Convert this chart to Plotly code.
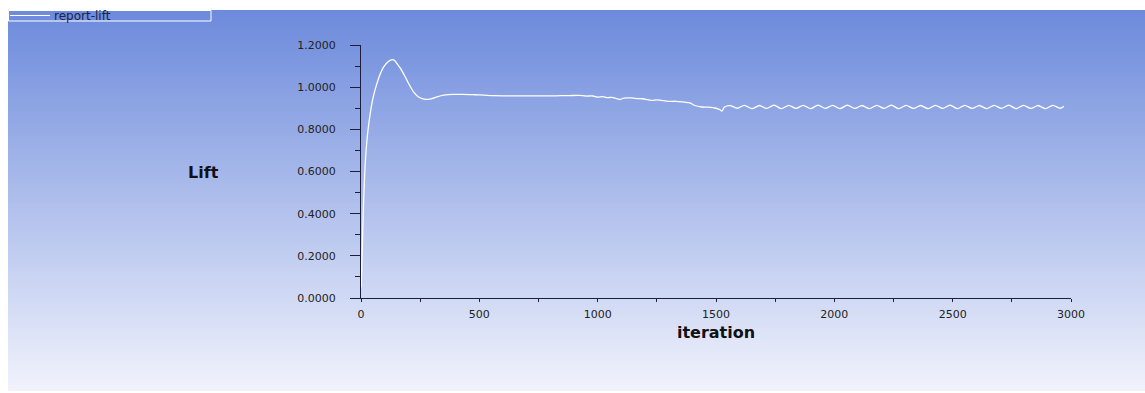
import plotly.graph_objects as go

# ---------------- data ----------------
iterations = [
    1, 5, 10, 18, 28, 39, 52, 67, 82, 96, 112, 128, 140, 152, 166, 180, 200,
    222, 245, 272, 300, 321, 350, 390, 430, 480, 520, 560, 620, 700, 760, 820,
    880, 920, 950, 980, 1000, 1020, 1040, 1060, 1080, 1096, 1110, 1140, 1170,
    1190, 1210, 1230, 1250, 1270, 1300, 1330, 1360, 1390, 1410, 1440, 1470,
    1500, 1515, 1526, 1535, 1560, 1590, 1620, 1652, 1683, 1714, 1745, 1776,
    1807, 1838, 1869, 1900, 1931, 1962, 1993, 2024, 2055, 2086, 2117, 2148,
    2179, 2210, 2241, 2272, 2303, 2334, 2365, 2396, 2427, 2458, 2489, 2520,
    2551, 2582, 2613, 2644, 2675, 2706, 2737, 2768, 2799, 2830, 2861, 2892,
    2923, 2954, 2970,
]
lift = [
    0.05, 0.22, 0.42, 0.64, 0.78, 0.875, 0.955, 1.017, 1.065, 1.096, 1.118,
    1.130, 1.128, 1.112, 1.090, 1.063, 1.020, 0.978, 0.952, 0.942, 0.946,
    0.954, 0.962, 0.966, 0.966, 0.964, 0.962, 0.960, 0.959, 0.959, 0.959,
    0.959, 0.960, 0.961, 0.958, 0.958, 0.953, 0.955, 0.950, 0.952, 0.946,
    0.942, 0.948, 0.949, 0.946, 0.945, 0.941, 0.937, 0.940, 0.937, 0.933,
    0.933, 0.930, 0.925, 0.913, 0.906, 0.905, 0.900, 0.894, 0.887, 0.905,
    0.912, 0.900, 0.914, 0.898, 0.913, 0.899, 0.915, 0.898, 0.914, 0.899,
    0.914, 0.898, 0.915, 0.899, 0.914, 0.898, 0.915, 0.899, 0.913, 0.898,
    0.914, 0.899, 0.915, 0.898, 0.914, 0.899, 0.913, 0.898, 0.914, 0.899,
    0.915, 0.898, 0.914, 0.899, 0.913, 0.898, 0.914, 0.899, 0.915, 0.898,
    0.914, 0.899, 0.913, 0.898, 0.914, 0.900, 0.910,
]
x_ticks = [0, 500, 1000, 1500, 2000, 2500, 3000]
y_ticks = [0.0, 0.2, 0.4, 0.6, 0.8, 1.0, 1.2]
series_name = "report-lift"
x_title = "iteration"
y_title = "Lift"

# ---------------- layout geometry ----------------
W_FIG, H_FIG = 1145, 393
M_L, M_R, M_T, M_B = 361, 74, 45, 95
PW = W_FIG - M_L - M_R
PH = H_FIG - M_T - M_B


def px(x):
    return (x - M_L) / PW


def py(y):
    return (M_T + PH - y) / PH


FONT = "DejaVu Sans"
AXIS_COL = "#1b1f3b"
TEXT_COL = "#222222"

# background vertical gradient built from thin bands
top_rgb = (108, 138, 220)
bot_rgb = (241, 243, 252)
g_top, g_bot = 10, 391
n_bands = 127
shapes = []
for i in range(n_bands):
    a = g_top + (g_bot - g_top) * i / n_bands
    b = g_top + (g_bot - g_top) * (i + 1) / n_bands
    t = (i + 0.5) / n_bands
    c = tuple(round(top_rgb[k] + (bot_rgb[k] - top_rgb[k]) * t) for k in range(3))
    shapes.append(dict(
        type="rect", xref="paper", yref="paper",
        x0=px(8), x1=px(1600), y0=py(min(b + 0.8, g_bot)), y1=py(a),
        fillcolor="rgb(%d,%d,%d)" % c, line=dict(width=0), layer="below",
    ))

# legend box drawn in the top-left corner
shapes.append(dict(type="rect", xref="paper", yref="paper",
                   x0=px(8.5), x1=px(211), y0=py(21), y1=py(10.5),
                   line=dict(color="white", width=1), fillcolor="rgba(0,0,0,0)",
                   layer="above"))
shapes.append(dict(type="line", xref="paper", yref="paper",
                   x0=px(10), x1=px(50), y0=py(15.5), y1=py(15.5),
                   line=dict(color="white", width=1), layer="above"))

fig = go.Figure()
fig.add_trace(go.Scatter(
    x=iterations, y=lift, mode="lines", name=series_name,
    line=dict(color="white", width=1.3, shape="spline", smoothing=0.8),
    showlegend=False,
))

fig.update_layout(
    width=W_FIG, height=H_FIG,
    margin=dict(l=M_L, r=M_R, t=M_T, b=M_B, pad=0),
    paper_bgcolor="white", plot_bgcolor="rgba(0,0,0,0)",
    shapes=shapes,
    font=dict(family=FONT, color=TEXT_COL, size=11),
    annotations=[
        dict(text=series_name, xref="paper", yref="paper", x=px(52), y=py(15.5),
             xanchor="left", yanchor="middle", showarrow=False,
             font=dict(family=FONT, size=12, color="#1a2340")),
        dict(text=y_title, xref="paper", yref="paper", x=px(203), y=py(172),
             xanchor="center", yanchor="middle", showarrow=False,
             font=dict(family=FONT, size=16, color="#111111", weight="bold")),
    ],
)

fig.update_xaxes(
    range=[0, 3000], tickvals=x_ticks, showgrid=False, zeroline=False,
    showline=True, linecolor=AXIS_COL, linewidth=1,
    ticks="outside", ticklen=3, tickcolor=AXIS_COL, tickwidth=1,
    minor=dict(dtick=250, ticks="outside", ticklen=3, tickcolor=AXIS_COL),
    tickfont=dict(family=FONT, size=11, color=TEXT_COL),
    ticklabelstandoff=3,
    title=dict(text=x_title, standoff=6,
               font=dict(family=FONT, size=16, color="#111111", weight="bold")),
)
fig.update_yaxes(
    range=[0, 1.2], tickvals=y_ticks, tickformat=".4f", showgrid=False,
    zeroline=False, showline=True, linecolor=AXIS_COL, linewidth=1,
    ticks="outside", ticklen=10, tickcolor=AXIS_COL, tickwidth=1,
    minor=dict(dtick=0.1, ticks="outside", ticklen=5, tickcolor=AXIS_COL),
    tickfont=dict(family=FONT, size=11, color=TEXT_COL),
    ticklabelstandoff=12,
)

page_js = (
    "document.body.style.margin='0';"
    "document.body.style.overflow='hidden';"
)
fig.write_html("out.html", config={"displayModeBar": False}, post_script=page_js)
